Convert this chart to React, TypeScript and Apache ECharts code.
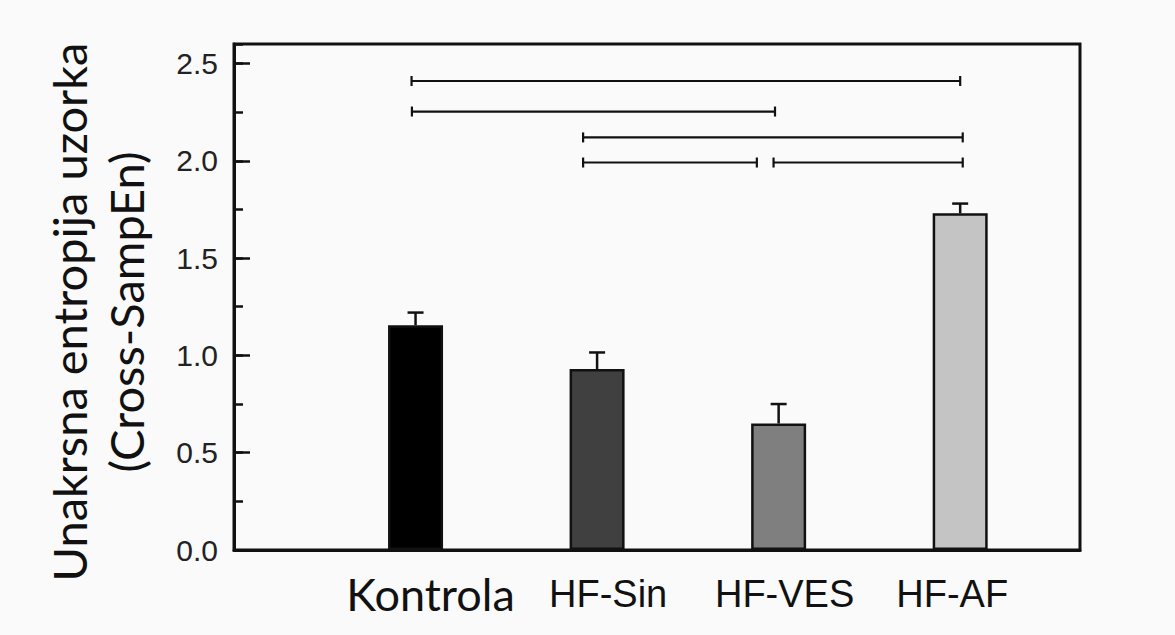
import React, { useEffect, useRef } from "react";
import * as echarts from "echarts";

const categories = ["Kontrola", "HF-Sin", "HF-VES", "HF-AF"];
const positions = [1, 2, 3, 4];
const means = [1.155, 0.93, 0.65, 1.73];
const errors = [0.065, 0.085, 0.1, 0.05];
const barColors = ["#000000", "#404040", "#7f7f7f", "#c4c4c4"];
const yTicks = [0, 0.5, 1.0, 1.5, 2.0, 2.5];

// significance brackets: start x, end x, level
const sigStart = [0.978, 0.98, 1.923, 1.923, 2.972];
const sigEnd = [4.0, 2.98, 4.014, 2.88, 4.014];
const sigLevel = [2.41, 2.253, 2.12, 1.991, 1.991];

const labelKeys = ["k", "s", "v", "a"];

export default function App() {
  const ref = useRef<HTMLDivElement>(null);
  useEffect(() => {
    if (!ref.current) return;
    const chart = echarts.init(ref.current, null, { renderer: "svg" });
    const barData = positions.map((p, i) => ({
      value: [p, means[i]],
      itemStyle: { color: barColors[i] },
    }));
    const errData = positions.map((p, i) => [p, means[i], errors[i]]);
    const sigData = sigStart.map((s, i) => [s, sigEnd[i], sigLevel[i]]);
    const option: any = {
      animation: false,
      backgroundColor: "#fafafa",
      grid: {
        left: 234,
        right: 95,
        top: 44,
        bottom: 85,
        show: true,
        borderColor: "#111",
        borderWidth: 3,
        backgroundColor: "transparent",
      },
      xAxis: {
        type: "value",
        min: 0,
        max: 4.66,
        interval: 1,
        splitLine: { show: false },
        axisLine: { show: true, lineStyle: { color: "#111", width: 3 } },
        axisTick: { show: false },
        axisLabel: {
          show: true,
          showMaxLabel: false,
          margin: 19,
          formatter: (v: number) => {
            const idx = positions.indexOf(Math.round(v * 1000) / 1000);
            if (idx < 0) return "";
            return `{${labelKeys[idx]}|${categories[idx]}}`;
          },
          rich: {
            k: {
              fontFamily: "Lato",
              fontSize: 45,
              lineHeight: 50,
              color: "#111",
              padding: [0, 0, 0, 30],
            },
            s: {
              fontFamily: "Liberation Sans",
              fontSize: 38,
              lineHeight: 50,
              color: "#111",
              padding: [0, 0, 0, 22],
            },
            v: {
              fontFamily: "Liberation Sans",
              fontSize: 38,
              lineHeight: 50,
              color: "#111",
              padding: [0, 0, 0, 12],
            },
            a: {
              fontFamily: "Liberation Sans",
              fontSize: 38,
              lineHeight: 50,
              color: "#111",
              padding: [0, 16, 0, 0],
            },
          },
        },
      },
      yAxis: [
        {
          type: "value",
          position: "left",
          min: 0,
          max: 2.6,
          interval: 0.5,
          splitLine: { show: false },
          axisLine: { show: true, lineStyle: { color: "#111", width: 3 } },
          axisTick: {
            show: true,
            inside: true,
            length: 16,
            lineStyle: { color: "#111", width: 2.5 },
          },
          axisLabel: {
            show: true,
            margin: 16,
            showMaxLabel: false,
            fontFamily: "Liberation Sans",
            fontSize: 30,
            color: "#222",
            formatter: (v: number) => {
              const t = yTicks.find((y) => Math.abs(y - v) < 1e-6);
              return t === undefined ? "" : t.toFixed(1);
            },
          },
        },
        {
          type: "value",
          position: "left",
          min: 0,
          max: 2.6,
          interval: 0.25,
          splitLine: { show: false },
          axisLine: { show: false },
          axisLabel: { show: false },
          axisTick: {
            show: true,
            inside: true,
            length: 9,
            lineStyle: { color: "#111", width: 2.5 },
          },
        },
      ],
      series: [
        {
          type: "bar",
          data: barData,
          barWidth: 55,
          itemStyle: { borderColor: "#111", borderWidth: 2.5 },
        },
        {
          type: "custom",
          data: errData,
          encode: { x: 0, y: 1 },
          z: 3,
          renderItem: (params: any, api: any) => {
            const x = api.value(0);
            const v = api.value(1);
            const e = api.value(2);
            const base = api.coord([x, v]);
            const top = api.coord([x, v + e]);
            const hw = 8;
            const st = { stroke: "#111", lineWidth: 2.5 };
            return {
              type: "group",
              children: [
                { type: "line", shape: { x1: base[0], y1: base[1], x2: top[0], y2: top[1] }, style: st },
                { type: "line", shape: { x1: top[0] - hw, y1: top[1], x2: top[0] + hw, y2: top[1] }, style: st },
              ],
            };
          },
        },
        {
          type: "custom",
          data: sigData,
          encode: { x: [0, 1], y: 2 },
          z: 3,
          renderItem: (params: any, api: any) => {
            const a = api.coord([api.value(0), api.value(2)]);
            const b = api.coord([api.value(1), api.value(2)]);
            const h = 5;
            const st = { stroke: "#111", lineWidth: 2.2 };
            return {
              type: "group",
              children: [
                { type: "line", shape: { x1: a[0], y1: a[1], x2: b[0], y2: b[1] }, style: st },
                { type: "line", shape: { x1: a[0], y1: a[1] - h, x2: a[0], y2: a[1] + h }, style: st },
                { type: "line", shape: { x1: b[0], y1: b[1] - h, x2: b[0], y2: b[1] + h }, style: st },
              ],
            };
          },
        },
      ],
      graphic: [
        {
          type: "text",
          x: 97,
          y: 312,
          rotation: Math.PI / 2,
          style: {
            text: "Unakrsna entropija uzorka\n(Cross-SampEn)",
            fontFamily: "Lato",
            fontSize: 47,
            lineHeight: 57,
            align: "center",
            verticalAlign: "middle",
            fill: "#111",
          },
        },
      ],
    };
    chart.setOption(option);
    return () => chart.dispose();
  }, []);
  return (
    <div
      ref={ref}
      style={{ position: "absolute", left: 0, top: 0, width: 1175, height: 635 }}
    />
  );
}
